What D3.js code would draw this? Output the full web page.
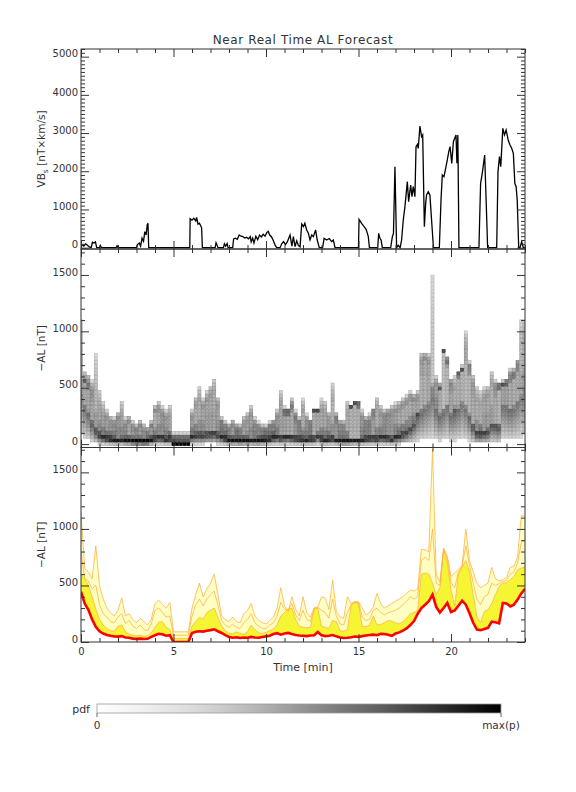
<!DOCTYPE html>
<html>
<head>
<meta charset="utf-8">
<script src="https://cdn.jsdelivr.net/npm/d3@7"></script>
<style>
  body { margin: 0; background: #fff; }
  svg { display: block; }
  text { font-family: "DejaVu Sans", sans-serif; fill: #333; }
</style>
</head>
<body>
<svg id="chart" width="576" height="792"></svg>
<script>
// ---- data ----

// solar wind driver VBs [nT x km/s] vs time [min]
const vbsTime = [0,0.05,0.15,0.25,0.35,0.45,0.55,0.62,0.7,0.78,0.85,1.0,1.05,1.1,1.9,1.95,2.0,
  3.0,3.05,3.15,3.22,3.3,3.38,3.45,3.52,3.58,3.62,3.66,
  5.88,5.9,6.0,6.1,6.2,6.25,6.32,6.4,6.48,6.52,6.56,
  7.25,7.3,7.36,7.4,7.7,7.75,7.82,7.9,7.95,
  8.2,8.25,8.35,8.45,8.55,8.65,8.75,8.85,8.95,9.05,9.15,9.2,9.28,9.35,9.45,9.55,9.65,9.75,9.85,9.95,10.05,10.12,10.2,10.3,10.4,10.5,10.58,
  10.76,10.85,10.95,11.05,11.15,11.3,11.4,11.48,11.57,11.66,11.75,11.84,
  11.93,12.02,12.1,12.2,12.29,12.38,12.47,12.56,12.68,12.77,12.88,
  13.06,13.14,13.28,13.42,13.55,13.64,13.73,
  15.0,15.03,15.17,15.3,15.41,15.48,15.53,15.59,
  16.04,16.09,16.16,16.22,16.29,
  16.74,16.83,16.89,16.97,17.06,17.15,17.25,17.33,
  17.42,17.51,17.64,17.71,17.82,17.89,17.96,18.05,18.11,18.18,18.23,18.32,18.41,18.47,18.56,18.63,18.68,18.77,18.86,18.95,19.05,
  19.37,19.46,19.53,19.62,19.73,19.8,19.88,19.95,20.04,20.13,20.2,20.27,20.32,20.37,20.43,
  21.51,21.6,21.69,21.82,21.91,21.98,
  22.47,22.54,22.62,22.69,22.8,22.89,22.98,23.09,23.19,23.28,23.37,23.45,23.52,23.58,23.66,23.73,23.82,23.91,24];
const vbsValue = [0,80,40,100,60,20,0,140,120,150,0,0,60,0,0,50,0,
  0,80,120,40,250,170,420,330,600,640,0,
  0,760,720,770,700,790,620,640,560,520,0,
  0,130,60,0,0,100,40,110,0,
  0,230,250,220,330,300,290,250,270,230,290,150,250,120,300,210,330,280,350,300,400,430,330,280,180,60,0,
  0,100,160,80,150,332,40,288,30,180,60,20,
  620,550,638,463,375,200,332,288,463,200,0,
  0,245,200,240,160,200,0,
  0,742,638,550,480,375,288,0,
  0,375,245,200,0,
  0,288,375,2120,0,60,0,200,
  724,1073,1727,1204,1640,1335,1597,1335,2643,2700,2600,3184,2905,2950,550,1160,1378,1466,1378,724,0,
  0,1247,1902,1858,2120,2295,2513,2643,2207,2775,2862,2950,2207,2950,0,
  0,1684,1946,2425,1073,0,
  0,1990,2382,2120,3123,2950,3080,2818,2687,2600,2469,1684,1597,1247,0,0,157,0,0];

// AL forecast, sampled every 0.2 min
const alTime = [0,0.2,0.4,0.6,0.8,1,1.2,1.4,1.6,1.8,2,2.2,2.4,2.6,2.8,3,3.2,3.4,3.6,3.8,
  4,4.2,4.4,4.6,4.8,5,5.2,5.4,5.6,5.8,6,6.2,6.4,6.6,6.8,7,7.2,7.4,7.6,7.8,
  8,8.2,8.4,8.6,8.8,9,9.2,9.4,9.6,9.8,10,10.2,10.4,10.6,10.8,11,11.2,11.4,11.6,11.8,
  12,12.2,12.4,12.6,12.8,13,13.2,13.4,13.6,13.8,14,14.2,14.4,14.6,14.8,15,15.2,15.4,15.6,15.8,
  16,16.2,16.4,16.6,16.8,17,17.2,17.4,17.6,17.8,18,18.2,18.4,18.6,18.8,19,19.2,19.4,19.6,19.8,
  20,20.2,20.4,20.6,20.8,21,21.2,21.4,21.6,21.8,22,22.2,22.4,22.6,22.8,23,23.2,23.4,23.6,23.8,24];
// red line: most likely -AL [nT]
const alMedian = [445,340,285,200,135,95,75,62,55,50,
  48,52,40,38,30,28,30,26,28,45,
  60,72,68,55,60,0,0,0,0,0,
  80,90,95,92,100,105,112,95,80,60,
  45,38,42,35,40,38,45,40,38,45,
  50,55,70,78,65,75,80,70,62,58,
  55,52,58,60,88,60,52,55,62,50,
  40,35,38,42,48,45,52,58,62,65,
  60,72,70,65,55,75,85,100,120,150,
  185,250,300,330,360,420,310,260,300,345,
  265,280,320,365,330,255,170,110,105,115,
  125,180,175,165,345,340,315,330,375,430,
  470];
// top of the bright yellow band
const alUpper75 = [600,560,500,400,290,200,150,120,100,95,
  140,150,90,70,60,55,60,50,55,80,
  130,175,180,130,110,30,30,30,30,30,
  140,180,220,200,260,280,300,220,140,100,
  80,70,90,75,70,90,150,110,80,75,
  85,100,115,150,230,260,290,300,200,140,
  130,125,130,290,300,140,130,120,190,180,
  100,95,110,330,350,340,140,135,150,230,
  150,155,170,190,185,170,160,180,210,250,
  260,280,600,610,600,520,420,480,820,700,
  460,320,600,660,720,620,420,220,170,270,
  285,340,420,490,520,525,550,580,640,655,
  660];
// inner orange line
const alUpper90 = [800,560,540,470,500,330,250,220,180,170,
  220,250,160,190,140,120,150,110,100,160,
  280,300,260,220,230,60,60,60,60,60,
  230,330,380,320,380,420,450,330,190,150,
  130,160,130,120,170,200,250,170,140,120,
  120,150,170,230,350,290,280,340,240,190,
  280,200,180,300,305,280,260,210,380,230,
  160,150,260,330,352,350,220,190,200,280,
  300,260,240,260,270,280,300,330,360,400,
  380,400,720,750,720,1000,520,500,825,740,
  530,480,620,670,850,680,520,380,330,400,
  420,520,500,515,535,545,600,620,700,880,
  900];
// outer orange envelope
const alTop = [1150,650,620,560,850,500,380,300,260,230,
  280,390,230,250,200,170,210,180,150,200,
  340,370,330,300,350,90,90,90,90,90,
  300,420,520,400,470,520,600,420,230,200,
  180,220,180,170,250,280,340,230,190,170,
  160,190,220,300,480,320,270,400,290,230,
  400,260,220,300,310,400,390,290,550,270,
  220,210,400,340,358,355,300,240,260,310,
  430,340,300,320,340,360,380,400,430,460,
  450,470,820,815,800,1700,600,530,830,760,
  580,610,640,680,1000,720,620,520,480,500,
  520,660,560,540,550,570,660,670,750,1120,
  1110];
// probability held between successive curves (0 -> median -> 75 -> 90 -> top)
const bandMass = [0.5, 0.25, 0.15, 0.10];

const xMajor = [0, 5, 10, 15, 20];
const vbsMajor = [0, 1000, 2000, 3000, 4000, 5000];
const alMajor = [0, 500, 1000, 1500];

// ---- layout ----
const svg = d3.select('#chart');
const left = 81, right = 525;
const x = d3.scaleLinear().domain([0, 24]).range([left, right]);
const yTop = d3.scaleLinear().domain([-35, 5200]).range([249, 49]);
const yMid = d3.scaleLinear().domain([-30, 1730]).range([447.5, 249]);
const yBot = d3.scaleLinear().domain([0, 1720]).range([642, 447.5]);

const defs = svg.append('defs');
function clip(id, y) {
  defs.append('clipPath').attr('id', id)
    .append('rect').attr('x', left).attr('y', y.range()[1])
    .attr('width', right - left).attr('height', y.range()[0] - y.range()[1]);
}
clip('cTop', yTop); clip('cMid', yMid); clip('cBot', yBot);

// ---- top panel: VBs ----
svg.append('path')
  .datum(vbsTime.map((t, i) => [t, vbsValue[i]]))
  .attr('clip-path', 'url(#cTop)')
  .attr('fill', 'none').attr('stroke', '#000').attr('stroke-width', 1.3)
  .attr('d', d3.line().x(d => x(d[0])).y(d => yTop(d[1])));

// ---- middle panel: pdf of -AL built from the forecast curves ----
// shape of the probability inside each band (cumulative share over the band)
const bandCdf = [
  u => u * u * u,              // piles up towards the median
  u => u,
  u => u,
  u => 1 - (1 - u) * (1 - u)   // thins out towards the top envelope
];
const binSize = 33;
const cells = [];
alTime.forEach((t, i) => {
  const q = [0, alMedian[i], alUpper75[i], alUpper90[i], alTop[i]];
  for (let b0 = -16.5; b0 < 1730; b0 += binSize) {
    const b1 = b0 + binSize;
    let v = 0;
    for (let j = 0; j < 4; j++) {
      const a = q[j], c = q[j + 1];
      if (c - a < 1e-6) { if (a >= b0 && a < b1) v += bandMass[j]; continue; }
      const lo = Math.max(b0, a), hi = Math.min(b1, c);
      if (hi > lo) v += bandMass[j] * (bandCdf[j]((hi - a) / (c - a)) - bandCdf[j]((lo - a) / (c - a)));
    }
    if (v > 0) cells.push({ t, b0, b1, v });
  }
});
const vmax = d3.max(cells, d => d.v);
const shade = d3.scalePow().exponent(0.38).domain([0, vmax]).range([0.12, 1]).clamp(true);

svg.append('g').attr('clip-path', 'url(#cMid)')
  .selectAll('rect')
  .data(cells.filter(d => d.v / vmax > 0.004))
  .join('rect')
  .attr('x', d => x(Math.max(0, d.t - 0.1)) + 0.3)
  .attr('width', d => x(Math.min(24, d.t + 0.1)) - x(Math.max(0, d.t - 0.1)) - 0.6)
  .attr('y', d => yMid(d.b1) + 0.3)
  .attr('height', d => yMid(d.b0) - yMid(d.b1) - 0.6)
  .attr('fill', d => d3.interpolateGreys(shade(d.v)))
  .attr('stroke', d => d3.interpolateGreys(Math.min(1, shade(d.v) + 0.15)))
  .attr('stroke-width', 0.6);

// ---- bottom panel: forecast bands ----
const gBot = svg.append('g').attr('clip-path', 'url(#cBot)');
const idx = alTime.map((t, i) => i);
gBot.append('path').datum(idx)
  .attr('fill', '#ffffc4')
  .attr('d', d3.area().x(i => x(alTime[i])).y0(i => yBot(alUpper75[i])).y1(i => yBot(alTop[i])));
gBot.append('path').datum(idx)
  .attr('fill', '#f5f533')
  .attr('d', d3.area().x(i => x(alTime[i])).y0(i => yBot(alMedian[i])).y1(i => yBot(alUpper75[i])));
[alUpper75, alUpper90, alTop].forEach(arr => {
  gBot.append('path').datum(idx)
    .attr('fill', 'none').attr('stroke', '#ffb040').attr('stroke-width', 0.9).attr('stroke-opacity', 0.85)
    .attr('d', d3.line().x(i => x(alTime[i])).y(i => yBot(arr[i])));
});
gBot.append('path').datum(idx)
  .attr('fill', 'none').attr('stroke', '#ff0000').attr('stroke-width', 2.6)
  .attr('d', d3.line().x(i => x(alTime[i])).y(i => yBot(alMedian[i])));

// ---- frames and ticks ----
const xMinor = d3.range(0, 25).filter(v => v % 5 !== 0);
function frame(y, major, minor, labelX) {
  const top = y.range()[1], bottom = y.range()[0];
  const g = svg.append('g').attr('font-size', 10);
  const styleAxis = a => a.call(s => s.select('.domain').remove())
    .call(s => s.selectAll('line').attr('stroke', '#333'))
    .call(s => s.selectAll('text').attr('fill', '#333').attr('font-family', '"DejaVu Sans", sans-serif'));

  g.append('g').attr('transform', `translate(${left},0)`)
    .call(d3.axisLeft(y).tickValues(major).tickSize(-8).tickPadding(3).tickFormat(d3.format('d')))
    .call(styleAxis).call(s => s.selectAll('text').attr('dy', '0.02em'));
  g.append('g').attr('transform', `translate(${left},0)`)
    .call(d3.axisLeft(y).tickValues(minor).tickSize(-4).tickFormat('')).call(styleAxis);
  g.append('g').attr('transform', `translate(${right},0)`)
    .call(d3.axisRight(y).tickValues(major).tickSize(-8).tickFormat('')).call(styleAxis);
  g.append('g').attr('transform', `translate(${right},0)`)
    .call(d3.axisRight(y).tickValues(minor).tickSize(-4).tickFormat('')).call(styleAxis);

  g.append('g').attr('transform', `translate(0,${top})`)
    .call(d3.axisTop(x).tickValues(xMajor).tickSize(-8).tickFormat('')).call(styleAxis);
  g.append('g').attr('transform', `translate(0,${top})`)
    .call(d3.axisTop(x).tickValues(xMinor).tickSize(-4).tickFormat('')).call(styleAxis);
  g.append('g').attr('transform', `translate(0,${bottom})`)
    .call(d3.axisBottom(x).tickValues(xMajor).tickSize(-8).tickPadding(6)
      .tickFormat(labelX ? d3.format('d') : ''))
    .call(styleAxis);
  g.append('g').attr('transform', `translate(0,${bottom})`)
    .call(d3.axisBottom(x).tickValues(xMinor).tickSize(-4).tickFormat('')).call(styleAxis);

  g.append('rect').attr('x', left).attr('y', top)
    .attr('width', right - left).attr('height', bottom - top)
    .attr('fill', 'none').attr('stroke', '#333').attr('stroke-width', 1);
}
frame(yTop, vbsMajor, d3.range(0, 5201, 100).filter(v => v % 1000 !== 0), false);
frame(yMid, alMajor, d3.range(0, 1731, 100).filter(v => v % 500 !== 0), false);
frame(yBot, alMajor, d3.range(0, 1721, 100).filter(v => v % 500 !== 0), true);

// ---- titles ----
svg.append('text').attr('x', 303).attr('y', 44).attr('text-anchor', 'middle')
  .attr('font-size', 12).attr('letter-spacing', 0.6).text('Near Real Time AL Forecast');

const vbLabel = svg.append('text').attr('transform', 'translate(45,149) rotate(-90)')
  .attr('text-anchor', 'middle').attr('font-size', 10.5);
vbLabel.append('tspan').text('VB');
vbLabel.append('tspan').attr('font-size', 7.5).attr('dy', 3).text('s');
vbLabel.append('tspan').attr('dy', -3).text(' [nT×km/s]');

[yMid, yBot].forEach(y => {
  svg.append('text')
    .attr('transform', `translate(45,${(y.range()[0] + y.range()[1]) / 2}) rotate(-90)`)
    .attr('text-anchor', 'middle').attr('font-size', 10.5).text('−AL [nT]');
});

svg.append('text').attr('x', 303).attr('y', 671).attr('text-anchor', 'middle')
  .attr('font-size', 11).text('Time [min]');

// ---- colour bar ----
const grad = defs.append('linearGradient').attr('id', 'pdfGrad');
d3.range(0, 1.01, 0.1).forEach(s => {
  grad.append('stop').attr('offset', s).attr('stop-color', d3.interpolateGreys(s));
});
svg.append('rect').attr('x', 97).attr('y', 704).attr('width', 404).attr('height', 9)
  .attr('fill', 'url(#pdfGrad)').attr('stroke', '#999').attr('stroke-width', 0.8);
[97, 501].forEach(px => {
  svg.append('line').attr('x1', px).attr('x2', px).attr('y1', 713).attr('y2', 717)
    .attr('stroke', '#666');
});
svg.append('text').attr('x', 90).attr('y', 713).attr('text-anchor', 'end')
  .attr('font-size', 11).text('pdf');
svg.append('text').attr('x', 97).attr('y', 729).attr('text-anchor', 'middle')
  .attr('font-size', 10.5).text('0');
svg.append('text').attr('x', 501).attr('y', 729).attr('text-anchor', 'middle')
  .attr('font-size', 10.5).text('max(p)');
</script>
</body>
</html>
